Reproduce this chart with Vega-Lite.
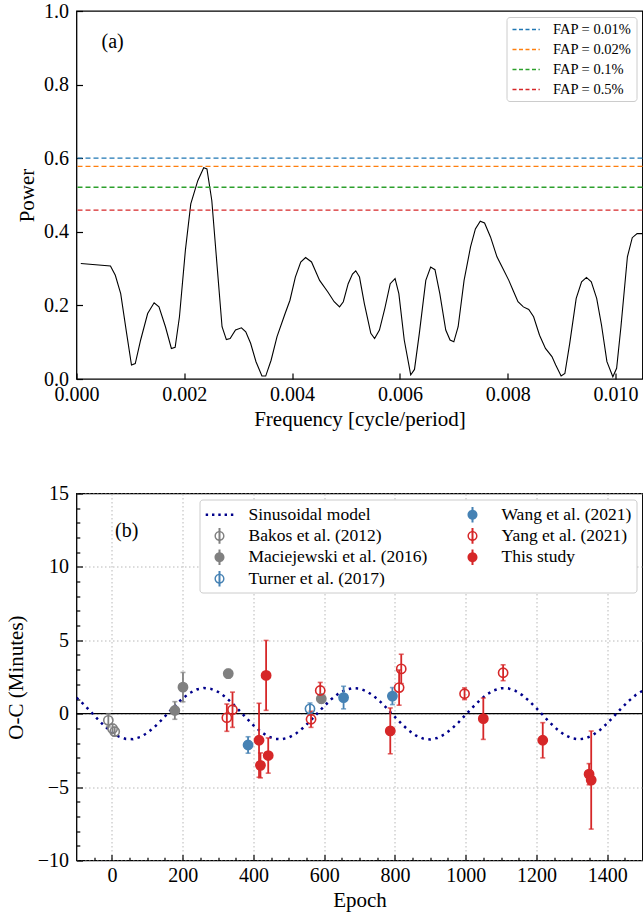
{
  "$schema": "https://vega.github.io/schema/vega-lite/v6.json",
  "padding": {"left": 4.5, "top": 0, "right": 0, "bottom": 0},
  "spacing": 52.5,
  "config": {
    "font": "Liberation Serif",
    "view": {"stroke": "black", "strokeWidth": 1.3},
    "axis": {
      "domain": false, "grid": false, "labelFlush": false,
      "labelFont": "Liberation Serif", "labelFontSize": 20, "labelColor": "black",
      "titleFont": "Liberation Serif", "titleFontSize": 21, "titleFontWeight": "normal", "titleColor": "black",
      "tickColor": "black", "tickWidth": 1.2, "tickSize": -6, "labelPadding": 14
    },
    "axisX": {"labelPadding": 11},
    "legend": {"labelFont": "Liberation Serif", "labelColor": "black"}
  },
  "vconcat": [
    {
      "width": 566,
      "height": 368,
      "layer": [
        {
          "data": {"values": [
            {"f":0.00008,"p":0.314},{"f":0.00063,"p":0.307},{"f":0.00072,"p":0.282},{"f":0.00082,"p":0.232},{"f":0.00093,"p":0.124},{"f":0.00102,"p":0.038},{"f":0.00109,"p":0.042},{"f":0.00119,"p":0.106},{"f":0.00132,"p":0.178},{"f":0.00144,"p":0.207},{"f":0.00153,"p":0.196},{"f":0.00165,"p":0.142},{"f":0.00176,"p":0.083},{"f":0.00183,"p":0.086},{"f":0.00191,"p":0.169},{"f":0.00202,"p":0.35},{"f":0.00212,"p":0.476},{"f":0.00225,"p":0.539},{"f":0.00236,"p":0.574},{"f":0.00242,"p":0.571},{"f":0.00251,"p":0.485},{"f":0.00261,"p":0.304},{"f":0.0027,"p":0.142},{"f":0.00278,"p":0.107},{"f":0.00285,"p":0.11},{"f":0.00295,"p":0.133},{"f":0.00306,"p":0.139},{"f":0.00314,"p":0.128},{"f":0.00323,"p":0.097},{"f":0.00333,"p":0.047},{"f":0.00344,"p":0.008},{"f":0.00351,"p":0.008},{"f":0.00361,"p":0.051},{"f":0.00372,"p":0.115},{"f":0.00387,"p":0.178},{"f":0.00396,"p":0.214},{"f":0.00406,"p":0.277},{"f":0.00416,"p":0.318},{"f":0.00425,"p":0.33},{"f":0.00436,"p":0.318},{"f":0.00451,"p":0.268},{"f":0.00466,"p":0.237},{"f":0.00478,"p":0.21},{"f":0.00488,"p":0.196},{"f":0.00495,"p":0.21},{"f":0.00504,"p":0.259},{"f":0.00512,"p":0.285},{"f":0.00518,"p":0.294},{"f":0.00525,"p":0.277},{"f":0.00534,"p":0.205},{"f":0.00546,"p":0.124},{"f":0.00553,"p":0.11},{"f":0.00562,"p":0.133},{"f":0.00572,"p":0.192},{"f":0.00582,"p":0.259},{"f":0.00591,"p":0.273},{"f":0.00598,"p":0.232},{"f":0.00608,"p":0.106},{"f":0.0062,"p":0.011},{"f":0.00627,"p":0.026},{"f":0.00636,"p":0.124},{"f":0.00648,"p":0.268},{"f":0.00657,"p":0.304},{"f":0.00665,"p":0.297},{"f":0.00674,"p":0.232},{"f":0.00685,"p":0.133},{"f":0.00693,"p":0.106},{"f":0.007,"p":0.101},{"f":0.00708,"p":0.142},{"f":0.00719,"p":0.268},{"f":0.00731,"p":0.359},{"f":0.0074,"p":0.408},{"f":0.00749,"p":0.429},{"f":0.00757,"p":0.424},{"f":0.00768,"p":0.386},{"f":0.0078,"p":0.332},{"f":0.00791,"p":0.3},{"f":0.00802,"p":0.268},{"f":0.00811,"p":0.237},{"f":0.00819,"p":0.21},{"f":0.00829,"p":0.196},{"f":0.00839,"p":0.189},{"f":0.00848,"p":0.169},{"f":0.00859,"p":0.119},{"f":0.0087,"p":0.083},{"f":0.00882,"p":0.061},{"f":0.00889,"p":0.038},{"f":0.00899,"p":0.008},{"f":0.00906,"p":0.015},{"f":0.00915,"p":0.097},{"f":0.00927,"p":0.219},{"f":0.00937,"p":0.264},{"f":0.00946,"p":0.276},{"f":0.00955,"p":0.264},{"f":0.00965,"p":0.219},{"f":0.00974,"p":0.146},{"f":0.00984,"p":0.047},{"f":0.00995,"p":0.006},{"f":0.01002,"p":0.029},{"f":0.0101,"p":0.142},{"f":0.01022,"p":0.332},{"f":0.01031,"p":0.384},{"f":0.0104,"p":0.395},{"f":0.0105,"p":0.395}
          ]},
          "mark": {"type": "line", "color": "black", "strokeWidth": 1.1, "clip": true},
          "encoding": {
            "x": {"field": "f", "type": "quantitative", "scale": {"domain": [0, 0.0105], "nice": false, "zero": false},
                  "axis": {"values": [0, 0.002, 0.004, 0.006, 0.008, 0.01], "format": ".3f", "title": "Frequency [cycle/period]"}},
            "y": {"field": "p", "type": "quantitative", "scale": {"domain": [0, 1], "nice": false},
                  "axis": {"values": [0, 0.2, 0.4, 0.6, 0.8, 1.0], "format": ".1f", "title": "Power", "titlePadding": 6}}
          }
        },
        {
          "data": {"values": [
            {"label": "FAP = 0.01%", "p": 0.600},
            {"label": "FAP = 0.02%", "p": 0.578},
            {"label": "FAP = 0.1%", "p": 0.521},
            {"label": "FAP = 0.5%", "p": 0.459}
          ]},
          "mark": {"type": "rule", "strokeDash": [5, 3], "strokeWidth": 1.3},
          "encoding": {
            "y": {"field": "p", "type": "quantitative", "scale": {"domain": [0, 1], "nice": false}, "axis": {"title": "Power"}},
            "color": {"field": "label", "type": "nominal",
              "scale": {"domain": ["FAP = 0.01%", "FAP = 0.02%", "FAP = 0.1%", "FAP = 0.5%"], "range": ["#1f77b4", "#ff7f0e", "#2ca02c", "#d62728"]},
              "legend": {"title": null, "orient": "top-right", "offset": 6, "symbolType": "M-0.93,0H2.97", "symbolSize": 196,
                "symbolStrokeWidth": 1.3, "symbolDash": [4, 2.5], "symbolFillColor": "transparent", "labelFontSize": 14.5, "labelOffset": 26,
                "rowPadding": 5, "padding": 4.5, "strokeColor": "#cccccc", "fillColor": "white", "cornerRadius": 3}}
          }
        },
        {
          "data": {"values": [{"f": 0.00067, "p": 0.916, "t": "(a)"}]},
          "mark": {"type": "text", "fontSize": 20, "font": "Liberation Serif", "color": "black"},
          "encoding": {
            "x": {"field": "f", "type": "quantitative"},
            "y": {"field": "p", "type": "quantitative"},
            "text": {"field": "t"}
          }
        }
      ]
    },
    {
      "width": 566,
      "height": 367,
      "data": {"values": [
        {"series":"Bakos et al. (2012)","epoch":-10,"oc":-0.45,"err":0.45},
        {"series":"Bakos et al. (2012)","epoch":2,"oc":-1.02,"err":0.3},
        {"series":"Bakos et al. (2012)","epoch":8,"oc":-1.22,"err":0.3},
        {"series":"Maciejewski et al. (2016)","epoch":178,"oc":0.22,"err":0.6},
        {"series":"Maciejewski et al. (2016)","epoch":201,"oc":1.81,"err":1.0},
        {"series":"Maciejewski et al. (2016)","epoch":329,"oc":2.73,"err":0.3},
        {"series":"Maciejewski et al. (2016)","epoch":592,"oc":1.02,"err":0.3},
        {"series":"Turner et al. (2017)","epoch":560,"oc":0.33,"err":0.4},
        {"series":"Wang et al. (2021)","epoch":385,"oc":-2.13,"err":0.56},
        {"series":"Wang et al. (2021)","epoch":655,"oc":1.1,"err":0.77},
        {"series":"Wang et al. (2021)","epoch":793,"oc":1.2,"err":0.58},
        {"series":"Yang et al. (2021)","epoch":325,"oc":-0.27,"err":0.93},
        {"series":"Yang et al. (2021)","epoch":341,"oc":0.27,"err":1.2},
        {"series":"Yang et al. (2021)","epoch":563,"oc":-0.38,"err":0.55},
        {"series":"Yang et al. (2021)","epoch":589,"oc":1.58,"err":0.55},
        {"series":"Yang et al. (2021)","epoch":812,"oc":1.78,"err":1.2},
        {"series":"Yang et al. (2021)","epoch":818,"oc":3.05,"err":1.0},
        {"series":"Yang et al. (2021)","epoch":997,"oc":1.36,"err":0.4},
        {"series":"Yang et al. (2021)","epoch":1106,"oc":2.79,"err":0.54},
        {"series":"This study","epoch":416,"oc":-1.81,"err":2.52},
        {"series":"This study","epoch":420,"oc":-3.52,"err":0.85},
        {"series":"This study","epoch":442,"oc":-2.85,"err":1.2},
        {"series":"This study","epoch":436,"oc":2.61,"err":2.38},
        {"series":"This study","epoch":787,"oc":-1.17,"err":1.56},
        {"series":"This study","epoch":1050,"oc":-0.34,"err":1.41},
        {"series":"This study","epoch":1218,"oc":-1.81,"err":1.2},
        {"series":"This study","epoch":1349,"oc":-4.12,"err":0.72},
        {"series":"This study","epoch":1355,"oc":-4.52,"err":3.34},
        {"series":"Sinusoidal model","epoch":-100,"oc":1.095},
        {"series":"Sinusoidal model","epoch":-80,"oc":0.647},
        {"series":"Sinusoidal model","epoch":-60,"oc":0.143},
        {"series":"Sinusoidal model","epoch":-40,"oc":-0.374},
        {"series":"Sinusoidal model","epoch":-20,"oc":-0.858},
        {"series":"Sinusoidal model","epoch":0,"oc":-1.267},
        {"series":"Sinusoidal model","epoch":20,"oc":-1.565},
        {"series":"Sinusoidal model","epoch":40,"oc":-1.726},
        {"series":"Sinusoidal model","epoch":60,"oc":-1.735},
        {"series":"Sinusoidal model","epoch":80,"oc":-1.593},
        {"series":"Sinusoidal model","epoch":100,"oc":-1.311},
        {"series":"Sinusoidal model","epoch":120,"oc":-0.914},
        {"series":"Sinusoidal model","epoch":140,"oc":-0.437},
        {"series":"Sinusoidal model","epoch":160,"oc":0.078},
        {"series":"Sinusoidal model","epoch":180,"oc":0.586},
        {"series":"Sinusoidal model","epoch":200,"oc":1.043},
        {"series":"Sinusoidal model","epoch":220,"oc":1.409},
        {"series":"Sinusoidal model","epoch":240,"oc":1.651},
        {"series":"Sinusoidal model","epoch":260,"oc":1.749},
        {"series":"Sinusoidal model","epoch":280,"oc":1.693},
        {"series":"Sinusoidal model","epoch":300,"oc":1.489},
        {"series":"Sinusoidal model","epoch":320,"oc":1.154},
        {"series":"Sinusoidal model","epoch":340,"oc":0.719},
        {"series":"Sinusoidal model","epoch":360,"oc":0.22},
        {"series":"Sinusoidal model","epoch":380,"oc":-0.297},
        {"series":"Sinusoidal model","epoch":400,"oc":-0.789},
        {"series":"Sinusoidal model","epoch":420,"oc":-1.212},
        {"series":"Sinusoidal model","epoch":440,"oc":-1.528},
        {"series":"Sinusoidal model","epoch":460,"oc":-1.711},
        {"series":"Sinusoidal model","epoch":480,"oc":-1.743},
        {"series":"Sinusoidal model","epoch":500,"oc":-1.623},
        {"series":"Sinusoidal model","epoch":520,"oc":-1.361},
        {"series":"Sinusoidal model","epoch":540,"oc":-0.979},
        {"series":"Sinusoidal model","epoch":560,"oc":-0.512},
        {"series":"Sinusoidal model","epoch":580,"oc":0.0},
        {"series":"Sinusoidal model","epoch":600,"oc":0.512},
        {"series":"Sinusoidal model","epoch":620,"oc":0.98},
        {"series":"Sinusoidal model","epoch":640,"oc":1.361},
        {"series":"Sinusoidal model","epoch":660,"oc":1.623},
        {"series":"Sinusoidal model","epoch":680,"oc":1.743},
        {"series":"Sinusoidal model","epoch":700,"oc":1.711},
        {"series":"Sinusoidal model","epoch":720,"oc":1.528},
        {"series":"Sinusoidal model","epoch":740,"oc":1.212},
        {"series":"Sinusoidal model","epoch":760,"oc":0.789},
        {"series":"Sinusoidal model","epoch":780,"oc":0.297},
        {"series":"Sinusoidal model","epoch":800,"oc":-0.22},
        {"series":"Sinusoidal model","epoch":820,"oc":-0.719},
        {"series":"Sinusoidal model","epoch":840,"oc":-1.155},
        {"series":"Sinusoidal model","epoch":860,"oc":-1.489},
        {"series":"Sinusoidal model","epoch":880,"oc":-1.693},
        {"series":"Sinusoidal model","epoch":900,"oc":-1.749},
        {"series":"Sinusoidal model","epoch":920,"oc":-1.651},
        {"series":"Sinusoidal model","epoch":940,"oc":-1.409},
        {"series":"Sinusoidal model","epoch":960,"oc":-1.043},
        {"series":"Sinusoidal model","epoch":980,"oc":-0.586},
        {"series":"Sinusoidal model","epoch":1000,"oc":-0.078},
        {"series":"Sinusoidal model","epoch":1020,"oc":0.438},
        {"series":"Sinusoidal model","epoch":1040,"oc":0.915},
        {"series":"Sinusoidal model","epoch":1060,"oc":1.311},
        {"series":"Sinusoidal model","epoch":1080,"oc":1.593},
        {"series":"Sinusoidal model","epoch":1100,"oc":1.735},
        {"series":"Sinusoidal model","epoch":1120,"oc":1.726},
        {"series":"Sinusoidal model","epoch":1140,"oc":1.565},
        {"series":"Sinusoidal model","epoch":1160,"oc":1.267},
        {"series":"Sinusoidal model","epoch":1180,"oc":0.858},
        {"series":"Sinusoidal model","epoch":1200,"oc":0.374},
        {"series":"Sinusoidal model","epoch":1220,"oc":-0.143},
        {"series":"Sinusoidal model","epoch":1240,"oc":-0.647},
        {"series":"Sinusoidal model","epoch":1260,"oc":-1.095},
        {"series":"Sinusoidal model","epoch":1280,"oc":-1.447},
        {"series":"Sinusoidal model","epoch":1300,"oc":-1.672},
        {"series":"Sinusoidal model","epoch":1320,"oc":-1.75},
        {"series":"Sinusoidal model","epoch":1340,"oc":-1.675},
        {"series":"Sinusoidal model","epoch":1360,"oc":-1.453},
        {"series":"Sinusoidal model","epoch":1380,"oc":-1.104},
        {"series":"Sinusoidal model","epoch":1400,"oc":-0.659},
        {"series":"Sinusoidal model","epoch":1420,"oc":-0.155},
        {"series":"Sinusoidal model","epoch":1440,"oc":0.362},
        {"series":"Sinusoidal model","epoch":1460,"oc":0.847},
        {"series":"Sinusoidal model","epoch":1480,"oc":1.258},
        {"series":"Sinusoidal model","epoch":1500,"oc":1.56}
      ]},
      "layer": [
        {
          "layer": [
            {
              "data": {"values": [{"zero": 0}]},
              "mark": {"type": "rule", "color": "black", "strokeWidth": 1.3},
              "encoding": {
                "y": {"field": "zero", "type": "quantitative", "scale": {"domain": [-10, 15], "nice": false, "zero": false},
                      "axis": {"values": [-10, -5, 0, 5, 10, 15], "format": "d", "title": "O-C (Minutes)", "titlePadding": 11, "grid": true, "gridColor": "#b0b0b0", "gridDash": [1.5, 2.5], "gridWidth": 0.9}}
              }
            },
            {
              "transform": [{"filter": "datum.series === 'Sinusoidal model'"}],
              "mark": {"type": "line", "color": "#00008b", "strokeWidth": 2.5, "strokeDash": [2.5, 4.5], "clip": true},
              "encoding": {
                "x": {"field": "epoch", "type": "quantitative", "scale": {"domain": [-100, 1500], "nice": false, "zero": false},
                      "axis": {"values": [0, 200, 400, 600, 800, 1000, 1200, 1400], "format": "d", "title": "Epoch", "grid": true, "gridColor": "#b0b0b0", "gridDash": [1.5, 2.5], "gridWidth": 0.9}},
                "y": {"field": "oc", "type": "quantitative", "scale": {"domain": [-10, 15], "nice": false, "zero": false}, "axis": {"title": "O-C (Minutes)"}}
              }
            },
            {
              "transform": [{"filter": "datum.series !== 'Sinusoidal model'"}],
              "mark": {"type": "errorbar", "thickness": 1.8, "ticks": {"size": 5, "thickness": 1.6}},
              "encoding": {
                "x": {"field": "epoch", "type": "quantitative", "scale": {"domain": [-100, 1500], "nice": false, "zero": false}, "axis": {"title": "Epoch"}},
                "y": {"field": "oc", "type": "quantitative", "scale": {"domain": [-10, 15], "nice": false, "zero": false}, "axis": {"title": "O-C (Minutes)"}},
                "yError": {"field": "err"},
                "color": {"field": "series", "type": "nominal", "legend": null,
                  "scale": {"domain": ["Bakos et al. (2012)", "Maciejewski et al. (2016)", "Turner et al. (2017)", "Wang et al. (2021)", "Yang et al. (2021)", "This study"],
                            "range": ["#808080", "#808080", "#4682b4", "#4682b4", "#d62728", "#d62728"]}}
              }
            },
            {
              "transform": [{"filter": "datum.series !== 'Sinusoidal model'"}],
              "mark": {"type": "point", "size": 85, "strokeWidth": 1.6, "opacity": 1},
              "encoding": {
                "x": {"field": "epoch", "type": "quantitative", "scale": {"domain": [-100, 1500], "nice": false, "zero": false}, "axis": {"title": "Epoch"}},
                "y": {"field": "oc", "type": "quantitative", "scale": {"domain": [-10, 15], "nice": false, "zero": false}, "axis": {"title": "O-C (Minutes)"}},
                "color": {"field": "series", "type": "nominal", "legend": null,
                  "scale": {"domain": ["Bakos et al. (2012)", "Maciejewski et al. (2016)", "Turner et al. (2017)", "Wang et al. (2021)", "Yang et al. (2021)", "This study"],
                            "range": ["#808080", "#808080", "#4682b4", "#4682b4", "#d62728", "#d62728"]}},
                "fill": {"field": "series", "type": "nominal", "legend": null,
                  "scale": {"domain": ["Bakos et al. (2012)", "Maciejewski et al. (2016)", "Turner et al. (2017)", "Wang et al. (2021)", "Yang et al. (2021)", "This study"],
                            "range": ["transparent", "#808080", "transparent", "#4682b4", "transparent", "#d62728"]}}
              }
            },
            {
              "data": {"values": [{"epoch": 42, "oc": 12.46, "t": "(b)"}]},
              "mark": {"type": "text", "fontSize": 20, "font": "Liberation Serif", "color": "black"},
              "encoding": {
                "x": {"field": "epoch", "type": "quantitative", "scale": {"domain": [-100, 1500], "nice": false, "zero": false}},
                "y": {"field": "oc", "type": "quantitative", "scale": {"domain": [-10, 15], "nice": false, "zero": false}},
                "text": {"field": "t"}
              }
            }
          ]
        },
        {
          "mark": {"type": "point", "filled": true, "opacity": 0},
          "encoding": {
            "x": {"field": "epoch", "type": "quantitative", "scale": {"domain": [-100, 1500], "nice": false, "zero": false},
                  "axis": {"orient": "bottom", "values": [-50, 50, 100, 150, 250, 300, 350, 450, 500, 550, 650, 700, 750, 850, 900, 950, 1050, 1100, 1150, 1250, 1300, 1350, 1450], "labels": false, "tickSize": -3.3, "title": null, "grid": false}},
            "y": {"field": "oc", "type": "quantitative", "scale": {"domain": [-10, 15], "nice": false, "zero": false},
                  "axis": {"orient": "left", "values": [-9, -8, -7, -6, -4, -3, -2, -1, 1, 2, 3, 4, 6, 7, 8, 9, 11, 12, 13, 14], "labels": false, "tickSize": -3.3, "title": null, "grid": false}},
            "color": {"field": "series", "type": "nominal",
              "scale": {"domain": ["Sinusoidal model", "Bakos et al. (2012)", "Maciejewski et al. (2016)", "Turner et al. (2017)", "Wang et al. (2021)", "Yang et al. (2021)", "This study"],
                        "range": ["#00008b", "#808080", "#808080", "#4682b4", "#4682b4", "#d62728", "#d62728"]},
              "legend": {"title": null, "orient": "top-right", "offset": 6, "columns": 2, "columnPadding": 30, "rowPadding": 2.4, "padding": 5,
                "symbolSize": 400, "symbolStrokeWidth": 0, "labelFontSize": 17.5, "labelOffset": 24, "labelLimit": 400,
                "strokeColor": "#cccccc", "fillColor": "white", "cornerRadius": 3,
                "encoding": {"symbols": {
                  "opacity": {"value": 1},
                  "shape": {"value": {"expr": "datum.value === 'Sinusoidal model' ? 'M-0.88,-0.12h0.24v0.24h-0.24z M-0.25,-0.12h0.24v0.24h-0.24z M0.38,-0.12h0.24v0.24h-0.24z M1.01,-0.12h0.24v0.24h-0.24z M1.64,-0.12h0.24v0.24h-0.24z' : ((datum.value === 'Bakos et al. (2012)' || datum.value === 'Yang et al. (2021)' || datum.value === 'Turner et al. (2017)') ? 'M0,0 A0.5,0.5 0 1 0 1,0 A0.5,0.5 0 1 0 0,0 Z M0.14,0 A0.36,0.36 0 1 1 0.86,0 A0.36,0.36 0 1 1 0.14,0 Z M0.4,-0.78 V0.78 H0.6 V-0.78 Z' : 'M0,0 A0.5,0.5 0 1 0 1,0 A0.5,0.5 0 1 0 0,0 Z M0.4,-0.78 V0.78 H0.6 V-0.78 Z')"}}
                }}}}
          }
        }
      ],
      "resolve": {"scale": {"color": "independent"}, "axis": {"x": "independent", "y": "independent"}}
    }
  ]
}
